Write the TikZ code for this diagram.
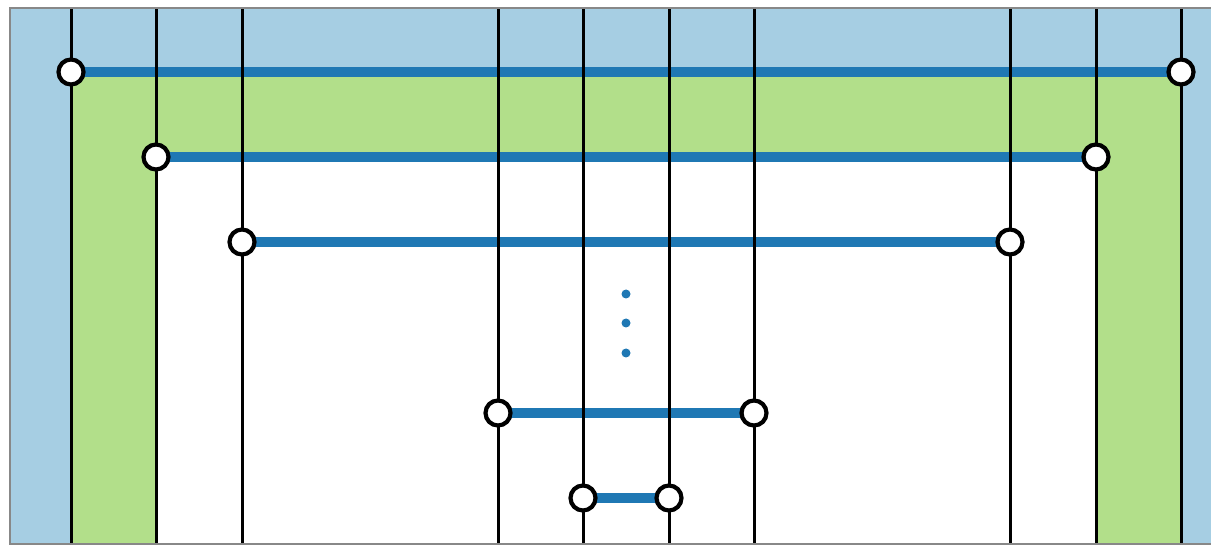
\documentclass[tikz,border=0pt]{standalone}
\usetikzlibrary{calc}
\definecolor{lblue}{HTML}{A6CEE3}
\definecolor{lgreen}{HTML}{B2DF8A}
\definecolor{dblue}{HTML}{1F78B4}
\definecolor{frame}{HTML}{888888}
\begin{document}
\begin{tikzpicture}[x=1pt,y=-1pt,
  vline/.style={draw=black,line width=3pt},
  hline/.style={draw=dblue,line width=10.5pt},
  port/.style={circle,draw=black,fill=white,line width=4.2pt,minimum size=25pt,inner sep=0pt},
  dotmark/.style={circle,fill=dblue,minimum size=9pt,inner sep=0pt}]
\useasboundingbox (0,0) rectangle (1211,545);
\begin{scope}
\clip (0,0) rectangle (1211,545);
% background regions
\fill[lblue] (10,8) rectangle (1230,545);
\fill[lgreen] (71,72) rectangle (1181,545);
\fill[white] (156,157) rectangle (1096,545);
% coordinates for vertical lines
\foreach \n/\x in {a/71,b/156,c/242,d/498,e/583,f/669,g/754,h/1010,i/1096,j/1181}{
  \coordinate (t\n) at (\x,8);
  \coordinate (b\n) at (\x,545);
}
% horizontal connectors
\coordinate (pa) at (71,72);   \coordinate (pj) at (1181,72);
\coordinate (pb) at (156,157); \coordinate (pi) at (1096,157);
\coordinate (pc) at (242,242); \coordinate (ph) at (1010,242);
\coordinate (pd) at (498,413); \coordinate (pg) at (754,413);
\coordinate (pe) at (583,498); \coordinate (pf) at (669,498);
\draw[hline] (pa) -- (pj);
\draw[hline] (pb) -- (pi);
\draw[hline] (pc) -- (ph);
\draw[hline] (pd) -- (pg);
\draw[hline] (pe) -- (pf);
% vertical lines
\foreach \n in {a,b,c,d,e,f,g,h,i,j}{
  \draw[vline] (t\n) -- (b\n);
}
% ports
\foreach \n in {a,j,b,i,c,h,d,g,e,f}{
  \node[port] (n\n) at (p\n) {};
}
% dots
\node[dotmark] (d1) at (626,294) {};
\node[dotmark] (d2) at (626,323) {};
\node[dotmark] (d3) at (626,353) {};
% frame
\draw[frame,line width=2.8pt] (1240,8) -- (10,8) -- (10,544) -- (1240,544);
\end{scope}
\end{tikzpicture}
\end{document}
